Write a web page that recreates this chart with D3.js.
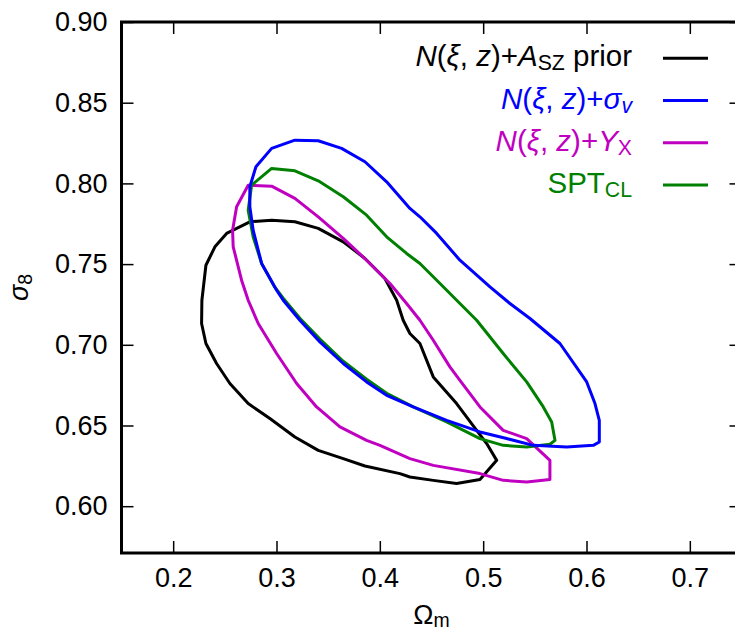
<!DOCTYPE html>
<html>
<head>
<meta charset="utf-8">
<script src="https://cdn.jsdelivr.net/npm/d3@7/dist/d3.min.js"></script>
<style>
  html, body { margin: 0; padding: 0; background: #fff; }
  svg { display: block; font-family: "Liberation Sans", Arial, Helvetica, sans-serif; }
</style>
</head>
<body>
<svg id="chart" width="735" height="633"></svg>
<script>
// ---- data (Omega_m, sigma_8 contour vertices) ----
const xTicks = [0.2, 0.3, 0.4, 0.5, 0.6, 0.7];
const xTickLabels = ["0.2", "0.3", "0.4", "0.5", "0.6", "0.7"];
const yTicks = [0.60, 0.65, 0.70, 0.75, 0.80, 0.85, 0.90];
const yTickLabels = ["0.60", "0.65", "0.70", "0.75", "0.80", "0.85", "0.90"];

const aszOmega = [0.2275,0.2278,0.2317,0.2404,0.2517,0.2742,0.2953,0.3178,0.3404,0.3646,0.3856,0.4049,0.4163,0.4226,0.4291,0.4388,0.4517,0.4743,0.4937,0.5034,0.5131,0.4969,0.4743,0.4517,0.4291,0.4194,0.3856,0.3646,0.3404,0.3178,0.2936,0.2726,0.2549,0.2420,0.2317];
const aszSigma = [0.7132,0.7276,0.7493,0.7607,0.7690,0.7762,0.7772,0.7762,0.7721,0.7638,0.7535,0.7411,0.7276,0.7152,0.7070,0.7008,0.6801,0.6636,0.6470,0.6388,0.6284,0.6165,0.6140,0.6160,0.6181,0.6202,0.6249,0.6295,0.6346,0.6429,0.6543,0.6636,0.6760,0.6884,0.7008];

const svOmega = [0.2742,0.2801,0.2953,0.3178,0.3404,0.3630,0.3856,0.4066,0.4291,0.4388,0.4550,0.4775,0.5066,0.5259,0.5453,0.5743,0.6002,0.6082,0.6124,0.6124,0.6066,0.5808,0.5485,0.5227,0.4969,0.4647,0.4323,0.4066,0.3872,0.3646,0.3420,0.3226,0.3065,0.3001,0.2856,0.2774,0.2742];
const svSigma = [0.7979,0.8103,0.8217,0.8268,0.8264,0.8217,0.8134,0.8010,0.7845,0.7793,0.7690,0.7524,0.7359,0.7256,0.7163,0.7008,0.6770,0.6636,0.6532,0.6398,0.6377,0.6367,0.6377,0.6419,0.6460,0.6532,0.6615,0.6687,0.6770,0.6884,0.7018,0.7152,0.7276,0.7338,0.7504,0.7710,0.7855];

const yxOmega = [0.2726,0.2953,0.3178,0.3404,0.3646,0.3872,0.4098,0.4259,0.4388,0.4517,0.4678,0.4775,0.4969,0.5194,0.5421,0.5646,0.5646,0.5421,0.5194,0.4969,0.4517,0.4291,0.4001,0.3872,0.3614,0.3388,0.3195,0.3001,0.2823,0.2726,0.2662,0.2581,0.2575,0.2614];
const yxSigma = [0.7989,0.7983,0.7907,0.7793,0.7659,0.7524,0.7380,0.7256,0.7152,0.7028,0.6863,0.6780,0.6615,0.6470,0.6419,0.6284,0.6165,0.6150,0.6160,0.6202,0.6253,0.6295,0.6377,0.6408,0.6491,0.6615,0.6760,0.6946,0.7132,0.7276,0.7400,0.7607,0.7710,0.7855];

const sptOmega = [0.2759,0.2953,0.3178,0.3404,0.3646,0.3872,0.4066,0.4259,0.4388,0.4582,0.4775,0.4937,0.5194,0.5421,0.5582,0.5663,0.5695,0.5646,0.5421,0.5194,0.4969,0.4647,0.4323,0.4066,0.3872,0.3646,0.3420,0.3226,0.3065,0.2984,0.2856,0.2774,0.2726];
const sptSigma = [0.7989,0.8093,0.8078,0.8016,0.7917,0.7803,0.7669,0.7566,0.7504,0.7380,0.7256,0.7152,0.6946,0.6770,0.6615,0.6522,0.6408,0.6384,0.6367,0.6377,0.6419,0.6522,0.6615,0.6700,0.6787,0.6898,0.7035,0.7165,0.7289,0.7357,0.7504,0.7669,0.7834];

// legend label segments: [text, italic, subscript]
const seriesLabels = [
  [["N",1,0],["(",0,0],["ξ",1,0],[", ",0,0],["z",1,0],[")+",0,0],["A",1,0],["SZ",0,1],[" prior",0,0]],
  [["N",1,0],["(",0,0],["ξ",1,0],[", ",0,0],["z",1,0],[")+",0,0],["σ",1,0],["v",1,1]],
  [["N",1,0],["(",0,0],["ξ",1,0],[", ",0,0],["z",1,0],[")+",0,0],["Y",1,0],["X",0,1]],
  [["SPT",0,0],["CL",0,1]]
];
const seriesColors = ["#000000", "#0000ff", "#c000c0", "#008000"];

// ---- chart ----
const svg = d3.select("#chart");
const x = d3.scaleLinear().domain([0.15, 0.75]).range([121.5, 741.5]);
const y = d3.scaleLinear().domain([0.571, 0.90]).range([553, 22]);

const series = [
  d3.zip(aszOmega, aszSigma),
  d3.zip(svOmega, svSigma),
  d3.zip(yxOmega, yxSigma),
  d3.zip(sptOmega, sptSigma)
];

const line = d3.line().x(d => x(d[0])).y(d => y(d[1])).curve(d3.curveLinearClosed);

// contours (draw order: black, magenta, green, blue on top)
const order = [0, 2, 3, 1];
order.forEach(i => {
  svg.append("path")
    .attr("d", line(series[i]))
    .attr("fill", "none")
    .attr("stroke", seriesColors[i])
    .attr("stroke-width", 3)
    .attr("stroke-linejoin", "round");
});

const fontSize = 27;
const legendSize = 29.5;

// axes
const axL = svg.append("g").attr("transform", `translate(${x(0.15)},0)`)
  .call(d3.axisLeft(y).tickValues(yTicks).tickFormat((d, i) => yTickLabels[i]).tickSize(-12).tickPadding(14).tickSizeOuter(0));
const axR = svg.append("g").attr("transform", `translate(${x(0.75)},0)`)
  .call(d3.axisRight(y).tickValues(yTicks).tickFormat("").tickSize(-12).tickSizeOuter(0));
const axB = svg.append("g").attr("transform", `translate(0,${y(0.571)})`)
  .call(d3.axisBottom(x).tickValues(xTicks).tickFormat((d, i) => xTickLabels[i]).tickSize(-12).tickPadding(15).tickSizeOuter(0));
const axT = svg.append("g").attr("transform", `translate(0,${y(0.90)})`)
  .call(d3.axisTop(x).tickValues(xTicks).tickFormat("").tickSize(-12).tickSizeOuter(0));

[axL, axR, axB, axT].forEach(g => {
  g.select(".domain").remove();
  g.selectAll(".tick line").attr("stroke", "#000").attr("stroke-width", 1.5);
  g.selectAll("text").attr("font-size", fontSize).attr("fill", "#000")
    .attr("font-family", "'Liberation Sans', Arial, sans-serif");
});

// frame
svg.append("rect")
  .attr("x", x(0.15)).attr("y", y(0.90))
  .attr("width", x(0.75) - x(0.15)).attr("height", y(0.571) - y(0.90))
  .attr("fill", "none").attr("stroke", "#000").attr("stroke-width", 3);

// axis labels
const xl = svg.append("text")
  .attr("x", (x(0.15) + x(0.75)) / 2).attr("y", 624)
  .attr("text-anchor", "middle").attr("font-size", fontSize);
xl.append("tspan").text("Ω");
xl.append("tspan").text("m").attr("font-size", fontSize * 0.72).attr("dy", 3);

const yl = svg.append("text")
  .attr("transform", `translate(28,${(y(0.571) + y(0.90)) / 2}) rotate(-90)`)
  .attr("text-anchor", "middle").attr("font-size", fontSize);
yl.append("tspan").text("σ").attr("font-style", "italic");
yl.append("tspan").text("8").attr("font-size", fontSize * 0.72).attr("dy", 4);

// legend
seriesLabels.forEach((segs, i) => {
  const ly = 58.3 + 42.2 * i;
  const t = svg.append("text")
    .attr("x", 632).attr("y", ly + 8)
    .attr("text-anchor", "end").attr("font-size", legendSize)
    .attr("fill", seriesColors[i]);
  let shifted = 0;
  segs.forEach(s => {
    const ts = t.append("tspan").text(s[0]);
    if (s[1]) ts.attr("font-style", "italic");
    if (s[2]) { ts.attr("font-size", legendSize * 0.72).attr("dy", 4 - shifted); shifted = 4; }
    else if (shifted) { ts.attr("dy", -shifted); shifted = 0; }
  });
  svg.append("line")
    .attr("x1", 663).attr("x2", 708).attr("y1", ly).attr("y2", ly)
    .attr("stroke", seriesColors[i]).attr("stroke-width", 3);
});
</script>
</body>
</html>
